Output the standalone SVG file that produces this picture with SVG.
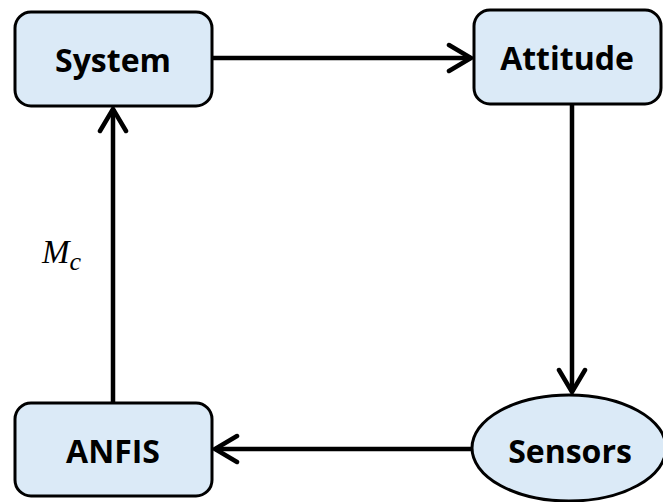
<svg xmlns="http://www.w3.org/2000/svg" width="663" height="502" viewBox="0 0 663 502">
<style>
.box{fill:#dbeaf7;stroke:#000;stroke-width:3}
.lbl{font-family:"Open Sans","Liberation Sans",sans-serif;font-weight:700;font-size:32px;fill:#000;text-anchor:middle;dominant-baseline:central}
.con{fill:none;stroke:#000;stroke-width:4.5}
</style>
<defs>
<marker id="chev" markerUnits="userSpaceOnUse" viewBox="-26 -16 30 32" markerWidth="30" markerHeight="32" refX="0" refY="0" orient="auto">
<path d="M-22,-13 L0,0 L-22,13" fill="none" stroke="#000" stroke-width="4.5" stroke-linejoin="miter" stroke-linecap="round"/>
</marker>
</defs>
<g id="connectors">
<line class="con" x1="212" y1="58" x2="471" y2="58" marker-end="url(#chev)"/>
<line class="con" x1="572" y1="104" x2="572" y2="392" marker-end="url(#chev)"/>
<line class="con" x1="472" y1="449" x2="215" y2="449" marker-end="url(#chev)"/>
<line class="con" x1="113" y1="403" x2="113" y2="109" marker-end="url(#chev)"/>
</g>
<g id="system">
<rect class="box" x="15" y="12" width="197" height="94" rx="16"/>
<text class="lbl" x="113" y="59">System</text>
</g>
<g id="attitude">
<rect class="box" x="474" y="10" width="187" height="94" rx="16"/>
<text class="lbl" x="567" y="57">Attitude</text>
</g>
<g id="sensors">
<ellipse class="box" cx="569" cy="448" rx="97" ry="53"/>
<text class="lbl" x="570" y="450">Sensors</text>
</g>
<g id="anfis">
<rect class="box" x="15" y="403" width="197" height="93" rx="16"/>
<text class="lbl" x="113" y="450">ANFIS</text>
</g>
<g id="mc-label">
<text x="42" y="263" font-family="'Liberation Serif','DejaVu Serif',serif" font-style="italic" font-size="33" fill="#000">M<tspan font-size="26" dy="7">c</tspan></text>
</g>
</svg>
